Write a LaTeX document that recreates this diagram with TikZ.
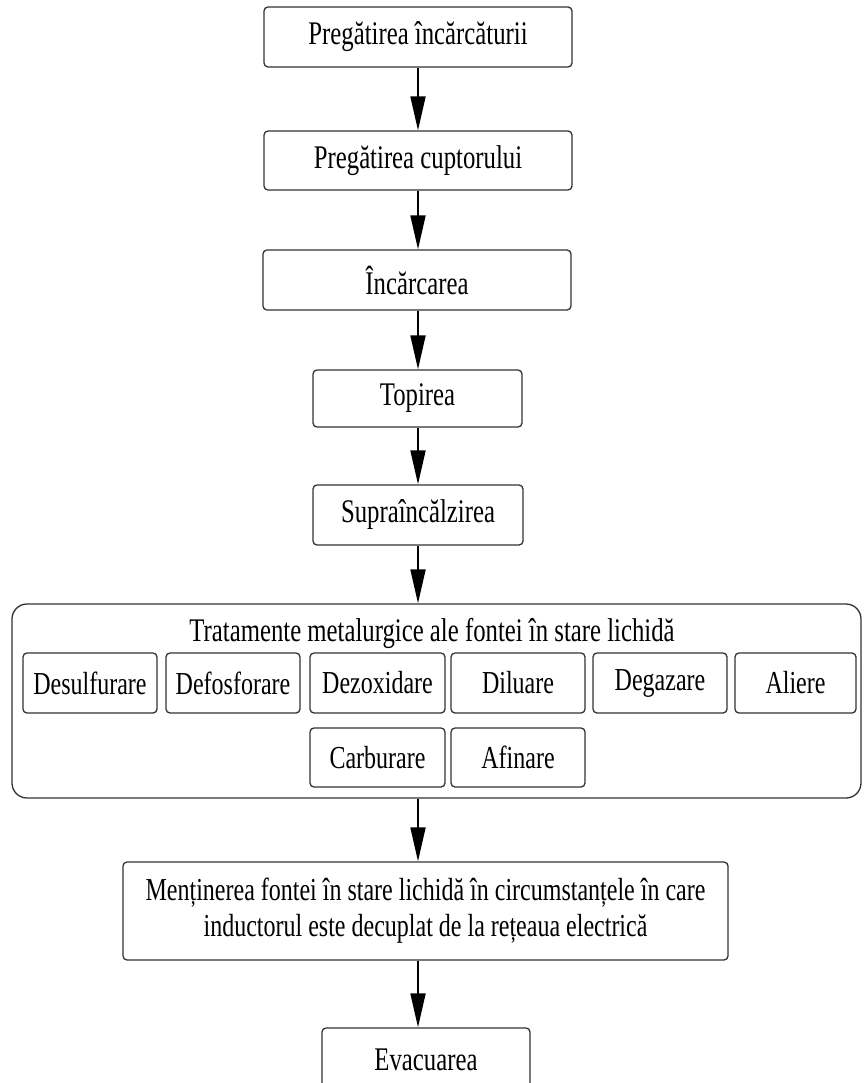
\documentclass[tikz,border=0pt]{standalone}
\usepackage{fontspec}
\setmainfont{Liberation Serif}[FakeStretch=0.75]
\usetikzlibrary{arrows.meta}
\tikzset{
  box/.style={draw=black!80, line width=1.3pt, rounded corners=4pt, fill=white,
    inner sep=0pt, align=center, font=\fontsize{33}{36}\selectfont},
  subbox/.style={box, font=\fontsize{32}{36}\selectfont},
  bigbox/.style={draw=black!80, line width=1.3pt, rounded corners=15pt, inner sep=0pt},
  arr/.style={line width=1.8pt, -{Triangle[length=34pt,width=15pt]}},
}
\begin{document}
\begin{tikzpicture}[x=1pt,y=-1pt]
\useasboundingbox[fill=white] (0,0) rectangle (864,1083);
\coordinate (ax) at (418,0);
\node[box, minimum width=308pt, minimum height=60pt] (b1) at (418,37) {Pregătirea încărcăturii};
\node[box, minimum width=308pt, minimum height=59pt] (b2) at (418,160.5) {Pregătirea cuptorului};
\node[box, minimum width=308pt, minimum height=60pt] (b3) at (417,280) {Încărcarea};
\node[box, minimum width=209pt, minimum height=57pt] (b4) at (417.5,398.5) {Topirea};
\node[box, minimum width=210pt, minimum height=60pt] (b5) at (418,515) {Supraîncălzirea};
\node[bigbox, minimum width=849pt, minimum height=194pt] (tr) at (436.5,701) {};
\node[font=\fontsize{33}{36}\selectfont, inner sep=0pt] (title) at (432,633) {Tratamente metalurgice ale fontei în stare lichidă};
\node[subbox, minimum width=134pt, minimum height=60pt] (d1) at (90,683) {Desulfurare};
\node[subbox, minimum width=134pt, minimum height=60pt] (d2) at (233,683) {Defosforare};
\node[subbox, minimum width=135pt, minimum height=60pt] (d3) at (377.5,683) {Dezoxidare};
\node[subbox, minimum width=134pt, minimum height=60pt] (d4) at (518,683) {Diluare};
\node[subbox, minimum width=134pt, minimum height=60pt] (d5) at (660,683) {Degazare};
\node[subbox, minimum width=121pt, minimum height=60pt] (d6) at (795.5,683) {Aliere};
\node[subbox, minimum width=135pt, minimum height=59pt] (c1) at (377.5,757.5) {Carburare};
\node[subbox, minimum width=134pt, minimum height=59pt] (c2) at (518,757.5) {Afinare};
\node[box, minimum width=605pt, minimum height=98pt, font=\fontsize{32}{36}\selectfont] (m) at (425.5,911)
  {Menținerea fontei în stare lichidă în circumstanțele în care\\inductorul este decuplat de la rețeaua electrică};
\node[box, minimum width=208pt, minimum height=72pt, text depth=0pt] (e) at (426,1064) {};
\node[font=\fontsize{33}{36}\selectfont, inner sep=0pt] (etext) at (426,1060) {Evacuarea};
\draw[arr] (b1.south -| ax) -- (b2.north -| ax);
\draw[arr] (b2.south -| ax) -- (b3.north -| ax);
\draw[arr] (b3.south -| ax) -- (b4.north -| ax);
\draw[arr] (b4.south -| ax) -- (b5.north -| ax);
\draw[arr] (b5.south -| ax) -- (tr.north -| ax);
\draw[arr] (tr.south -| ax) -- (m.north -| ax);
\draw[arr] (m.south -| ax) -- (e.north -| ax);
\end{tikzpicture}
\end{document}
